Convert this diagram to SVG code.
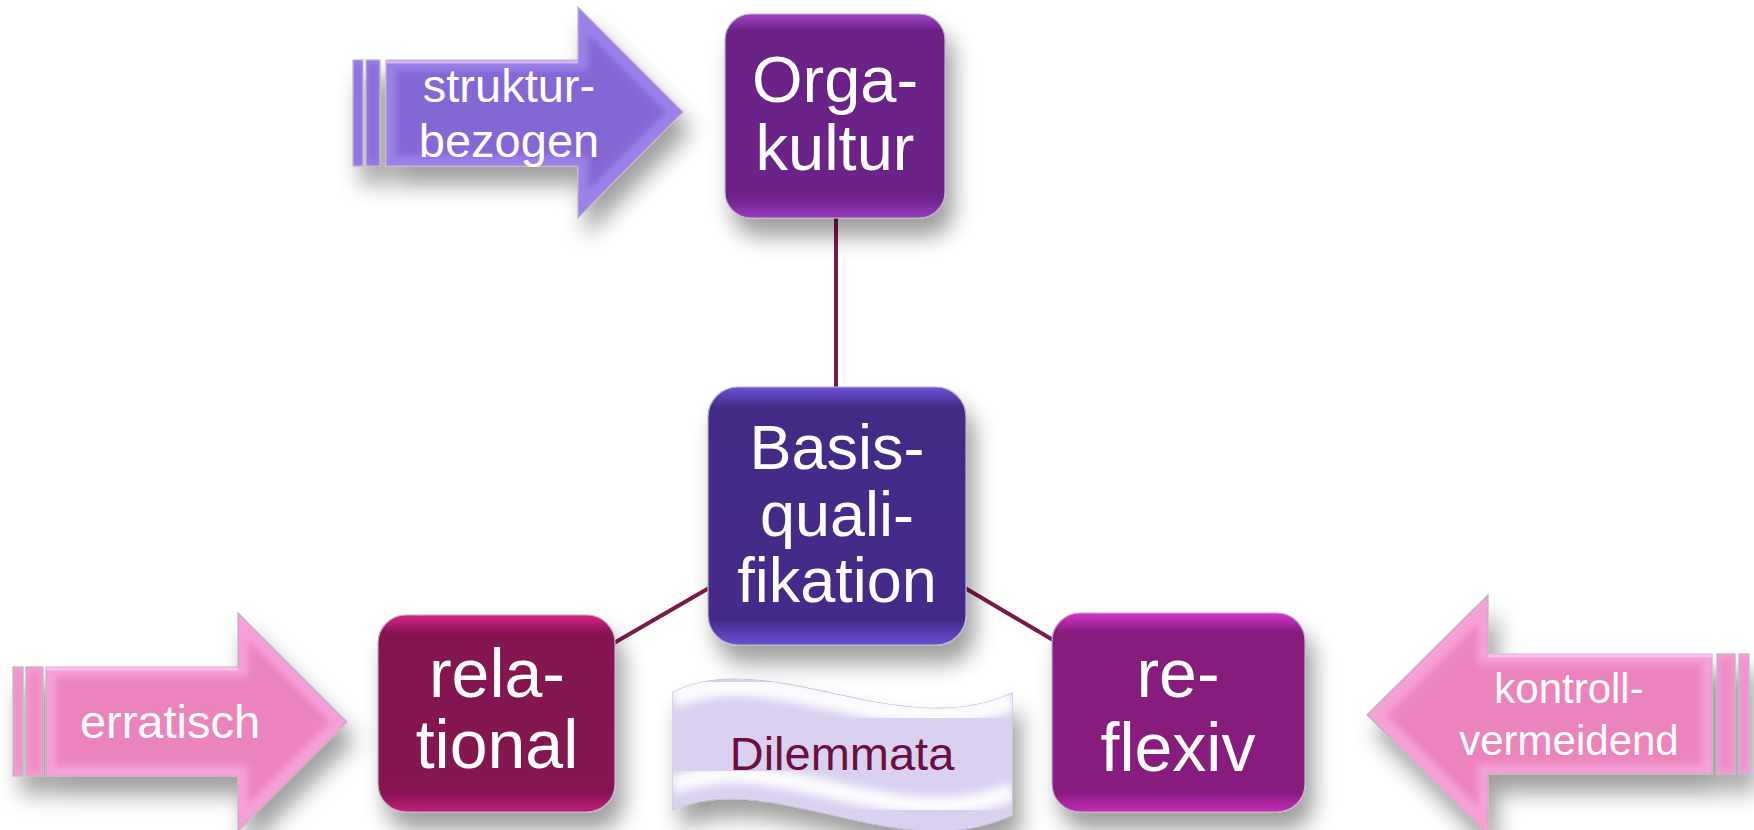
<svg xmlns="http://www.w3.org/2000/svg" width="1754" height="830" viewBox="0 0 1754 830">
<defs>
<style>
.lbl{font-family:"Liberation Sans",Arial,sans-serif;fill:#ffffff;text-anchor:middle}
.conn{stroke:#7a1a4c;stroke-width:4;fill:none}
.edge{stroke:#b9b3c2;stroke-width:1.2}
</style>
<filter id="sh" x="-25%" y="-25%" width="160%" height="170%">
<feDropShadow dx="8" dy="18" stdDeviation="11" flood-color="#000" flood-opacity="0.38"/>
</filter>
<filter id="blur4"><feGaussianBlur stdDeviation="4"/></filter>
<filter id="blur3"><feGaussianBlur stdDeviation="3"/></filter>
<linearGradient id="gOrga" x1="0" y1="0" x2="0" y2="1">
<stop offset="0" stop-color="#a544c8"/><stop offset="0.08" stop-color="#6a2287"/><stop offset="0.9" stop-color="#6c2389"/><stop offset="1" stop-color="#9a3cbc"/>
</linearGradient>
<linearGradient id="gBasis" x1="0" y1="0" x2="0" y2="1">
<stop offset="0" stop-color="#6d52dc"/><stop offset="0.08" stop-color="#432985"/><stop offset="0.9" stop-color="#452a8a"/><stop offset="1" stop-color="#6a4fd6"/>
</linearGradient>
<linearGradient id="gRel" x1="0" y1="0" x2="0" y2="1">
<stop offset="0" stop-color="#d6238a"/><stop offset="0.1" stop-color="#83134f"/><stop offset="0.9" stop-color="#85144f"/><stop offset="1" stop-color="#c22080"/>
</linearGradient>
<linearGradient id="gRef" x1="0" y1="0" x2="0" y2="1">
<stop offset="0" stop-color="#d634cc"/><stop offset="0.1" stop-color="#861b7c"/><stop offset="0.9" stop-color="#881c7e"/><stop offset="1" stop-color="#c42cb8"/>
</linearGradient>
<clipPath id="bannerClip"><path d="M673,692 C770,645 900,745 1012,693 L1012,815 C900,868 770,766 673,810 Z"/></clipPath>
<clipPath id="clipS"><polygon points="386,60 578,60 578,7 683,112 578,218 578,166 386,166"/></clipPath>
<clipPath id="clipE"><polygon points="46,667 238,667 238,613 347,722 238,831 238,776 46,776"/></clipPath>
<clipPath id="clipK"><polygon points="1712,654 1488,654 1488,595 1367,715 1488,835 1488,774 1712,774"/></clipPath>
</defs>
<rect width="1754" height="830" fill="#ffffff"/>

<g id="connectors">
<line class="conn" x1="836" y1="218" x2="836" y2="388"/>
<line class="conn" x1="614" y1="643" x2="709" y2="588"/>
<line class="conn" x1="965" y1="588" x2="1053" y2="640"/>
</g>

<g id="arrow-struktur">
<g filter="url(#sh)">
<rect x="353" y="60" width="10" height="106" fill="#9d80ea" class="edge"/>
<rect x="366" y="60" width="14" height="106" fill="#9d80ea" class="edge"/>
<polygon points="386,60 578,60 578,7 683,112 578,218 578,166 386,166" fill="#9d80ea" class="edge"/>
</g>
<rect x="355" y="64" width="6" height="98" fill="#8a6bda" filter="url(#blur3)"/>
<rect x="368" y="64" width="10" height="98" fill="#8a6bda" filter="url(#blur3)"/>
<g clip-path="url(#clipS)">
<polygon points="396,70 588,70 588,34 666,112 588,190 588,156 396,156" fill="#8566d5" filter="url(#blur3)"/>
<line x1="386" y1="62" x2="578" y2="62" stroke="#d2b4f6" stroke-width="3"/>
</g>
<text class="lbl" x="509" y="102" font-size="47">struktur-</text>
<text class="lbl" x="509" y="157" font-size="47">bezogen</text>
</g>

<g id="arrow-erratisch">
<g filter="url(#sh)">
<rect x="13" y="667" width="10" height="109" fill="#f6a0d6" class="edge"/>
<rect x="26" y="667" width="17" height="109" fill="#f6a0d6" class="edge"/>
<polygon points="46,667 238,667 238,613 347,722 238,831 238,776 46,776" fill="#f6a0d6" class="edge"/>
</g>
<rect x="15" y="671" width="6" height="101" fill="#ee8cc4" filter="url(#blur3)"/>
<rect x="28" y="671" width="13" height="101" fill="#ee8cc4" filter="url(#blur3)"/>
<g clip-path="url(#clipE)">
<polygon points="56,677 248,677 248,640 330,722 248,804 248,766 56,766" fill="#eb84bd" filter="url(#blur3)"/>
<line x1="46" y1="669" x2="238" y2="669" stroke="#ffc0ec" stroke-width="3"/>
</g>
<text class="lbl" x="170" y="738" font-size="47">erratisch</text>
</g>

<g id="arrow-kontroll">
<g filter="url(#sh)">
<rect x="1739" y="654" width="10" height="120" fill="#f6a0d6" class="edge"/>
<rect x="1717" y="654" width="18" height="120" fill="#f6a0d6" class="edge"/>
<polygon points="1712,654 1488,654 1488,595 1367,715 1488,835 1488,774 1712,774" fill="#f6a0d6" class="edge"/>
</g>
<rect x="1741" y="658" width="6" height="112" fill="#ee8cc4" filter="url(#blur3)"/>
<rect x="1719" y="658" width="14" height="112" fill="#ee8cc4" filter="url(#blur3)"/>
<g clip-path="url(#clipK)">
<polygon points="1702,664 1478,664 1478,624 1387,715 1478,806 1478,764 1702,764" fill="#eb84bd" filter="url(#blur3)"/>
<line x1="1488" y1="656" x2="1712" y2="656" stroke="#ffc0ec" stroke-width="3"/>
</g>
<text class="lbl" x="1569" y="703" font-size="42">kontroll-</text>
<text class="lbl" x="1569" y="755" font-size="42">vermeidend</text>
</g>

<g id="node-orga">
<rect x="725" y="14" width="220" height="204" rx="26" fill="url(#gOrga)" class="edge" filter="url(#sh)"/>
<text class="lbl" x="835" y="102" font-size="65">Orga-</text>
<text class="lbl" x="835" y="170" font-size="65">kultur</text>
</g>

<g id="node-basis">
<rect x="708" y="387" width="258" height="258" rx="30" fill="url(#gBasis)" class="edge" filter="url(#sh)"/>
<text class="lbl" x="837" y="469" font-size="63">Basis-</text>
<text class="lbl" x="837" y="536" font-size="63">quali-</text>
<text class="lbl" x="837" y="602" font-size="63">fikation</text>
</g>

<g id="node-relational">
<rect x="378" y="615" width="237" height="197" rx="28" fill="url(#gRel)" class="edge" filter="url(#sh)"/>
<text class="lbl" x="497" y="697" font-size="68">rela-</text>
<text class="lbl" x="497" y="768" font-size="68">tional</text>
</g>

<g id="node-reflexiv">
<rect x="1052" y="613" width="253" height="199" rx="28" fill="url(#gRef)" class="edge" filter="url(#sh)"/>
<text class="lbl" x="1178" y="697" font-size="68">re-</text>
<text class="lbl" x="1178" y="771" font-size="68">flexiv</text>
</g>

<g id="node-dilemmata">
<path d="M673,692 C770,645 900,745 1012,693 L1012,815 C900,868 770,766 673,810 Z" fill="#dad1f1" stroke="#c4bcd4" stroke-width="1.2" filter="url(#sh)"/>
<g clip-path="url(#bannerClip)">
<path d="M673,692 C770,645 900,745 1012,693 L1012,815 C900,868 770,766 673,810 Z" fill="#dad1f1"/>
<path d="M673,698 C770,651 900,751 1012,699" stroke="#ffffff" stroke-width="22" fill="none" filter="url(#blur4)" opacity="0.9"/>
<path d="M673,786 C770,742 900,842 1012,791" stroke="#ffffff" stroke-width="18" fill="none" filter="url(#blur4)" opacity="0.9"/>
<path d="M676,692 L676,810" stroke="#ffffff" stroke-width="10" fill="none" filter="url(#blur4)" opacity="0.6"/>
<path d="M1009,693 L1009,815" stroke="#ffffff" stroke-width="10" fill="none" filter="url(#blur4)" opacity="0.6"/>
</g>
<text x="842" y="770" font-size="47" font-family="Liberation Sans, Arial, sans-serif" fill="#6b0f3f" text-anchor="middle">Dilemmata</text>
</g>
</svg>
